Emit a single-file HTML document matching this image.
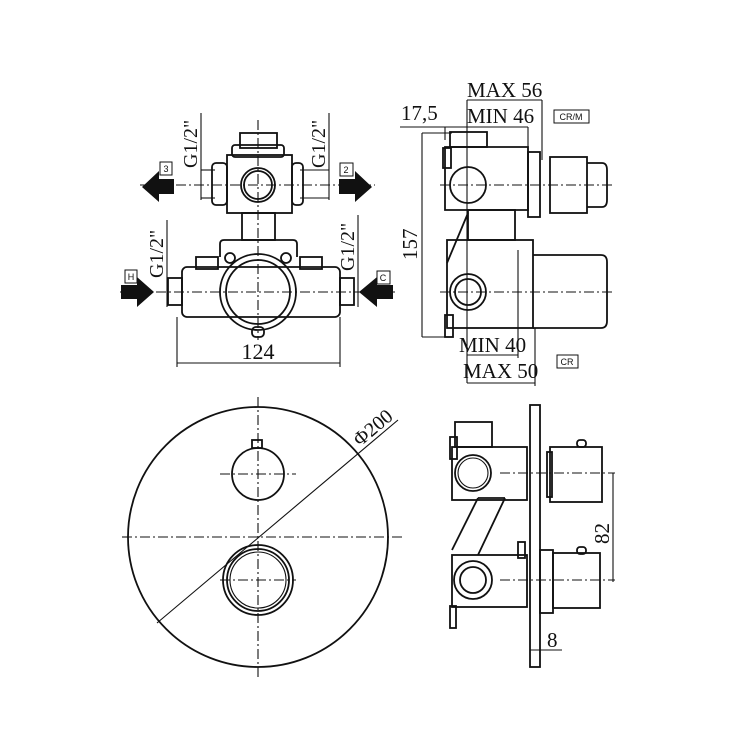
<!DOCTYPE html>
<html><head><meta charset="utf-8"><style>
html,body{margin:0;padding:0;background:#fff}
svg{display:block}
.l{stroke:#111;fill:none;stroke-width:1.8}
.t{stroke:#111;fill:none;stroke-width:1.1}
.c{stroke:#111;fill:none;stroke-width:1.1;stroke-dasharray:10 3 2 3}
.s{font-family:"Liberation Serif",serif;fill:#111}
.b{font-family:"Liberation Sans",sans-serif;fill:#111;font-size:9px}
</style></head><body>
<svg width="750" height="750" viewBox="0 0 750 750" xmlns="http://www.w3.org/2000/svg">
<!-- TOP LEFT -->
<g>
<rect class="l" x="240" y="133" width="37" height="15"/>
<rect class="l" x="232" y="145" width="52" height="12" rx="3"/>
<rect class="l" x="227" y="155" width="65" height="58"/>
<rect class="l" x="212" y="163" width="15" height="42" rx="4"/>
<rect class="l" x="292" y="163" width="11" height="42" rx="4"/>
<circle class="l" cx="258" cy="185" r="17"/>
<circle class="l" cx="258" cy="185" r="14"/>
<rect class="l" x="242" y="213" width="33" height="27"/>
<path class="l" d="M220 257 L220 244 Q220 240 224 240 L293 240 Q297 240 297 244 L297 257"/>
<rect class="l" x="182" y="267" width="158" height="50" rx="5"/>
<rect class="l" x="168" y="278" width="14" height="27"/>
<rect class="l" x="340" y="278" width="14" height="27"/>
<rect class="l" x="196" y="257" width="22" height="12"/>
<rect class="l" x="300" y="257" width="22" height="12"/>
<circle class="l" cx="230" cy="258" r="5"/>
<circle class="l" cx="286" cy="258" r="5"/>
<circle class="l" cx="258" cy="292" r="38"/>
<circle class="l" cx="258" cy="292" r="32"/>
<rect class="l" x="252" y="327" width="12" height="10" rx="4"/>
<line class="c" x1="258" y1="120" x2="258" y2="340"/>
<line class="c" x1="140" y1="185" x2="375" y2="185"/>
<line class="c" x1="120" y1="292" x2="395" y2="292"/>
<line class="t" x1="201" y1="113" x2="201" y2="200"/>
<line class="t" x1="329" y1="113" x2="329" y2="200"/>
<line class="t" x1="201" y1="170" x2="215" y2="170"/><line class="t" x1="201" y1="198" x2="215" y2="198"/>
<line class="t" x1="300" y1="170" x2="329" y2="170"/><line class="t" x1="300" y1="198" x2="329" y2="198"/>
<text class="s" font-size="20" transform="translate(197,168) rotate(-90)">G1/2"</text>
<text class="s" font-size="20" transform="translate(325,168) rotate(-90)">G1/2"</text>
<line class="t" x1="167" y1="220" x2="167" y2="307"/>
<line class="t" x1="358" y1="215" x2="358" y2="307"/>
<text class="s" font-size="20" transform="translate(163,278) rotate(-90)">G1/2"</text>
<text class="s" font-size="20" transform="translate(354,271) rotate(-90)">G1/2"</text>
<line class="t" x1="177" y1="317" x2="177" y2="367"/>
<line class="t" x1="340" y1="317" x2="340" y2="367"/>
<line class="t" x1="177" y1="363" x2="340" y2="363"/>
<text class="s" font-size="22" x="258" y="359" text-anchor="middle">124</text>
<polygon fill="#111" points="174,179 159,179 159,171 142,187 159,202 159,194 174,194"/>
<rect x="160" y="162" width="12" height="13" fill="#fff" stroke="#111"/><text class="b" x="166" y="172" text-anchor="middle">3</text>
<polygon fill="#111" points="339,179 355,179 355,171 372,187 355,202 355,194 339,194"/>
<rect x="340" y="163" width="13" height="13" fill="#fff" stroke="#111"/><text class="b" x="346" y="173" text-anchor="middle">2</text>
<polygon fill="#111" points="121,285 137,285 137,277 154,292 137,307 137,299 121,299"/>
<rect x="125" y="270" width="12" height="13" fill="#fff" stroke="#111"/><text class="b" x="131" y="280" text-anchor="middle">H</text>
<polygon fill="#111" points="393,285 377,285 377,277 359,292 377,307 377,299 393,299"/>
<rect x="377" y="271" width="13" height="13" fill="#fff" stroke="#111"/><text class="b" x="383" y="281" text-anchor="middle">C</text>
</g>
<!-- TOP RIGHT -->
<g>
<text class="s" font-size="21" x="467" y="97">MAX 56</text>
<line class="t" x1="467" y1="100" x2="542" y2="100"/>
<text class="s" font-size="21" x="467" y="123">MIN 46</text>
<text class="s" font-size="21" x="401" y="120">17,5</text>
<line class="t" x1="400" y1="127" x2="528" y2="127"/>
<rect x="554" y="110" width="35" height="13" fill="#fff" stroke="#111"/><text class="b" x="571" y="120" text-anchor="middle">CR/M</text>
<line class="t" x1="467" y1="100" x2="467" y2="383"/>
<line class="t" x1="542" y1="100" x2="542" y2="160"/>
<line class="t" x1="528" y1="127" x2="528" y2="217"/>
<line class="t" x1="445" y1="127" x2="445" y2="140"/>
<line class="t" x1="422" y1="133" x2="422" y2="337"/>
<line class="t" x1="422" y1="133" x2="452" y2="133"/>
<line class="t" x1="422" y1="337" x2="450" y2="337"/>
<text class="s" font-size="21" transform="translate(417,260) rotate(-90)">157</text>
<rect class="l" x="450" y="132" width="37" height="15"/>
<path class="l" d="M445 147 L528 147 L528 210 L445 210 Z"/>
<rect class="l" x="443" y="148" width="8" height="20"/>
<rect class="l" x="528" y="152" width="12" height="65"/>
<circle class="l" cx="468" cy="185" r="18"/>
<rect class="l" x="550" y="157" width="37" height="56"/>
<path class="l" d="M587 163 L602 163 Q607 163 607 170 L607 200 Q607 207 602 207 L587 207"/>
<line class="c" x1="440" y1="185" x2="612" y2="185"/>
<rect class="l" x="468" y="210" width="47" height="30"/>
<line class="l" x1="468" y1="213" x2="447" y2="263"/>
<rect class="l" x="447" y="240" width="86" height="88"/>
<rect class="l" x="445" y="315" width="8" height="22"/>
<circle class="l" cx="468" cy="292" r="18"/>
<circle class="l" cx="468" cy="292" r="13"/>
<path class="l" d="M533 255 L601 255 Q607 255 607 262 L607 321 Q607 328 601 328 L533 328"/>
<line class="c" x1="440" y1="292" x2="612" y2="292"/>
<text class="s" font-size="21" x="459" y="352">MIN 40</text>
<line class="t" x1="467" y1="355" x2="518" y2="355"/>
<line class="t" x1="518" y1="250" x2="518" y2="358"/>
<text class="s" font-size="21" x="463" y="378">MAX 50</text>
<line class="t" x1="467" y1="383" x2="535" y2="383"/>
<line class="t" x1="535" y1="328" x2="535" y2="386"/>
<rect x="557" y="355" width="21" height="13" fill="#fff" stroke="#111"/><text class="b" x="567" y="365" text-anchor="middle">CR</text>
</g>
<!-- BOTTOM LEFT -->
<g>
<circle class="l" cx="258" cy="537" r="130"/>
<circle class="l" cx="258" cy="474" r="26"/>
<rect class="l" x="252" y="440" width="10" height="8"/>
<circle class="l" cx="258" cy="580" r="35"/>
<circle class="l" cx="258" cy="580" r="31"/>
<circle class="t" cx="258" cy="580" r="28"/>
<line class="c" x1="258" y1="397" x2="258" y2="678"/>
<line class="c" x1="122" y1="537" x2="402" y2="537"/>
<line class="c" x1="220" y1="474" x2="296" y2="474"/>
<line class="c" x1="220" y1="580" x2="296" y2="580"/>
<line class="t" x1="157" y1="623" x2="398" y2="420"/>
<text class="s" font-size="20" transform="translate(360,447) rotate(-40)">Φ200</text>
</g>
<!-- BOTTOM RIGHT -->
<g>
<rect class="l" x="530" y="405" width="10" height="262"/>
<rect class="l" x="455" y="422" width="37" height="25"/>
<rect class="l" x="452" y="447" width="75" height="53"/>
<rect class="l" x="450" y="437" width="7" height="22"/>
<circle class="l" cx="473" cy="473" r="18"/>
<circle class="t" cx="473" cy="473" r="15"/>
<rect class="l" x="547" y="452" width="5" height="45"/>
<rect class="l" x="550" y="447" width="52" height="55"/>
<rect class="l" x="577" y="440" width="9" height="7" rx="3"/>
<line class="c" x1="500" y1="473" x2="615" y2="473"/>
<path class="l" d="M478 498 L452 550 M505 498 L478 555 M478 498 L505 498"/>
<rect class="l" x="452" y="555" width="75" height="52"/>
<rect class="l" x="518" y="542" width="7" height="16"/>
<circle class="l" cx="473" cy="580" r="19"/>
<circle class="l" cx="473" cy="580" r="13"/>
<rect class="l" x="450" y="606" width="6" height="22"/>
<rect class="l" x="540" y="550" width="13" height="63"/>
<rect class="l" x="553" y="553" width="47" height="55"/>
<rect class="l" x="577" y="547" width="9" height="7" rx="3"/>
<line class="c" x1="500" y1="580" x2="615" y2="580"/>
<line class="t" x1="613" y1="473" x2="613" y2="582"/>
<text class="s" font-size="21" transform="translate(609,544) rotate(-90)">82</text>
<text class="s" font-size="21" x="547" y="647">8</text>
<line class="t" x1="530" y1="650" x2="562" y2="650"/>
</g>
</svg>
</body></html>
